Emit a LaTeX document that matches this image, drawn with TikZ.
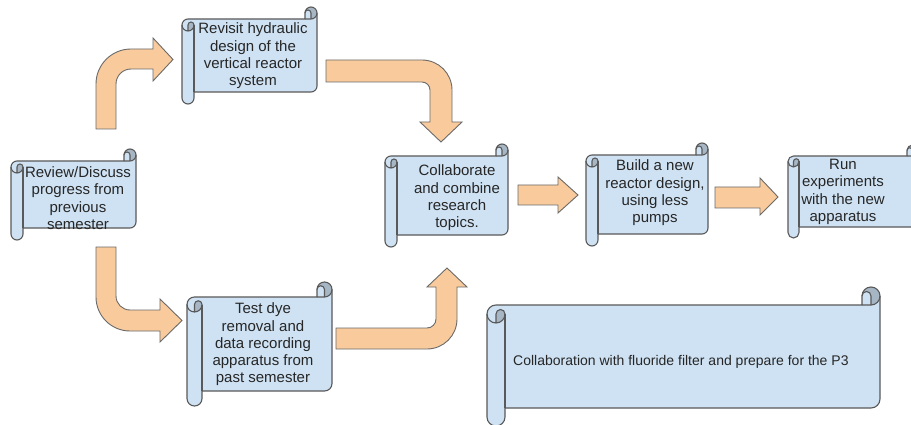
\documentclass[tikz,border=0pt]{standalone}
\usepackage{fontspec}
\setmainfont{Liberation Sans}
\definecolor{scfill}{HTML}{CFE2F3}
\definecolor{scdark}{HTML}{A7B6C4}
\definecolor{scline}{HTML}{595959}
\definecolor{arfill}{HTML}{F9CB9C}
\definecolor{arline}{HTML}{6A6A6A}
\definecolor{txtcol}{HTML}{262626}
\tikzset{
  scrollfill/.style={fill=scfill},
  scrolldark/.style={fill=scdark},
  scrollline/.style={draw=scline,line width=1.1pt,line join=round},
  blockarrow/.style={fill=arfill,draw=arline,line width=0.9pt,line join=miter},
  txt/.style={align=center,text=txtcol,font=\fontsize{15}{17.3}\selectfont,inner sep=0pt},
  bigtxt/.style={text=txtcol,font=\fontsize{14}{16}\selectfont,inner sep=0pt}
}
% left, top, right, bottom, curl size (pixel coordinates, y downwards)
\newcommand\scrollbox[5]{%
 \begin{scope}[shift={(#1,#2)}]
  \pgfmathsetmacro\scR{#3-#1}\pgfmathsetmacro\scB{#4-#2}%
  \pgfmathsetmacro\scC{#5}\pgfmathsetmacro\scH{#5/2}\pgfmathsetmacro\scQ{#5/4}%
  \pgfmathsetmacro\scyA{1.5*#5}\pgfmathsetmacro\scyB{2*#5}%
  \pgfmathsetmacro\scySix{\scB-#5}\pgfmathsetmacro\scySev{\scB-#5/2}%
  \pgfmathsetmacro\scyFiv{\scB-1.5*#5}%
  \pgfmathsetmacro\scxA{\scR-#5}\pgfmathsetmacro\scxB{\scR-#5/2}%
  \fill[scrollfill] (\scR,\scH) arc[start angle=0,delta angle=90,radius=\scH]
    -- (\scH,\scC) arc[start angle=270,delta angle=-90,radius=\scH]
    -- (0,\scySev) arc[start angle=180,delta angle=-180,radius=\scH]
    -- (\scC,\scySix) -- (\scxB,\scySix) arc[start angle=90,delta angle=-90,radius=\scH] -- cycle;
  \fill[scrollfill] (\scxA,\scC) -- (\scxA,\scH) arc[start angle=180,delta angle=180,radius=\scQ] -- (\scxB,\scC) -- cycle;
  \fill[scrolldark] (\scxB,\scC) arc[start angle=90,delta angle=-270,radius=\scH]
    arc[start angle=180,delta angle=180,radius=\scQ] -- cycle;
  \fill[scrolldark] (\scH,\scyB) arc[start angle=90,delta angle=-90,radius=\scH]
    arc[start angle=0,delta angle=-180,radius=\scQ] -- cycle;
  \draw[scrollline] (0,\scyA) arc[start angle=180,delta angle=90,radius=\scH]
    -- (\scxA,\scC) -- (\scxA,\scH) arc[start angle=180,delta angle=180,radius=\scH]
    -- (\scR,\scyFiv) arc[start angle=0,delta angle=90,radius=\scH]
    -- (\scC,\scySix) -- (\scC,\scySev) arc[start angle=0,delta angle=180,radius=\scH] -- cycle;
  \draw[scrollline] (\scxA,\scC) -- (\scxB,\scC) arc[start angle=90,delta angle=-90,radius=\scH];
  \draw[scrollline] (\scxB,\scC) -- (\scxB,\scH) arc[start angle=0,delta angle=-180,radius=\scQ];
  \draw[scrollline] (\scH,\scyB) -- (\scH,\scyA) arc[start angle=180,delta angle=180,radius=\scQ]
    arc[start angle=0,delta angle=180,radius=\scH];
  \draw[scrollline] (\scC,\scyA) -- (\scC,\scySix);
 \end{scope}}
\begin{document}
\begin{tikzpicture}[x=1pt,y=1pt,yscale=-1]
\useasboundingbox (0,0) rectangle (911,425);
\fill[white] (0,0) rectangle (911,425);
\clip (0,0) rectangle (911,425);

% scrolls
\scrollbox{11}{149}{136}{240}{12}
\scrollbox{182}{7}{317}{104}{12}
\scrollbox{385}{144}{508}{247}{12}
\scrollbox{586}{143}{708}{246}{12}
\scrollbox{788}{145}{918}{238}{11}
\scrollbox{187}{282}{332}{406}{15}
\scrollbox{487}{287}{880}{426}{18}

% block arrows
\draw[blockarrow] (96,129) -- (96,84) arc[start angle=180,delta angle=90,radius=35]
  -- (153,49) -- (153,38) -- (173,59.5) -- (153,81) -- (153,69) -- (131,69)
  arc[start angle=270,delta angle=-90,radius=15] -- (116,129) -- cycle;
\draw[blockarrow] (96,247) -- (96,297) arc[start angle=180,delta angle=-90,radius=34]
  -- (160,331) -- (160,342) -- (182,320.5) -- (160,299) -- (160,310) -- (130,310)
  arc[start angle=90,delta angle=90,radius=14] -- (116,247) -- cycle;
\draw[blockarrow] (326,60) -- (422,60) arc[start angle=270,delta angle=90,radius=30]
  -- (452,122) -- (462,122) -- (441,142) -- (420,122) -- (430,122) -- (430,90)
  arc[start angle=0,delta angle=-90,radius=8] -- (326,82) -- cycle;
\draw[blockarrow] (336,349) -- (427,349) arc[start angle=90,delta angle=-90,radius=30]
  -- (457,287) -- (467,287) -- (447,268) -- (427,287) -- (436,287) -- (436,319)
  arc[start angle=0,delta angle=90,radius=9] -- (336,328) -- cycle;
\draw[blockarrow] (518,185) -- (558,185) -- (558,177) -- (578,195) -- (558,213) -- (558,205) -- (518,205) -- cycle;
\draw[blockarrow] (715,187) -- (760,187) -- (760,178) -- (778,197) -- (760,215) -- (760,208) -- (715,208) -- cycle;

% texts
\node[txt] (review) at (78,198) {Review/Discuss\\progress from\\previous\\semester};
\node[txt] (revisit) at (253,56) {Revisit hydraulic\\design of the\\vertical reactor\\system};
\node[txt] (collab) at (457,198) {Collaborate\\and combine\\research\\topics.};
\node[txt] (build) at (655,193) {Build a new\\reactor design,\\using less\\pumps};
\node[txt] (run) at (843,192) {Run\\experiments\\with the new\\apparatus};
\node[txt] (test) at (263,344.5) {Test dye\\removal and\\data recording\\apparatus from\\past semester};
\node[bigtxt,anchor=west] (fluoride) at (513,362) {Collaboration with fluoride filter and prepare for the P3};
\end{tikzpicture}
\end{document}
